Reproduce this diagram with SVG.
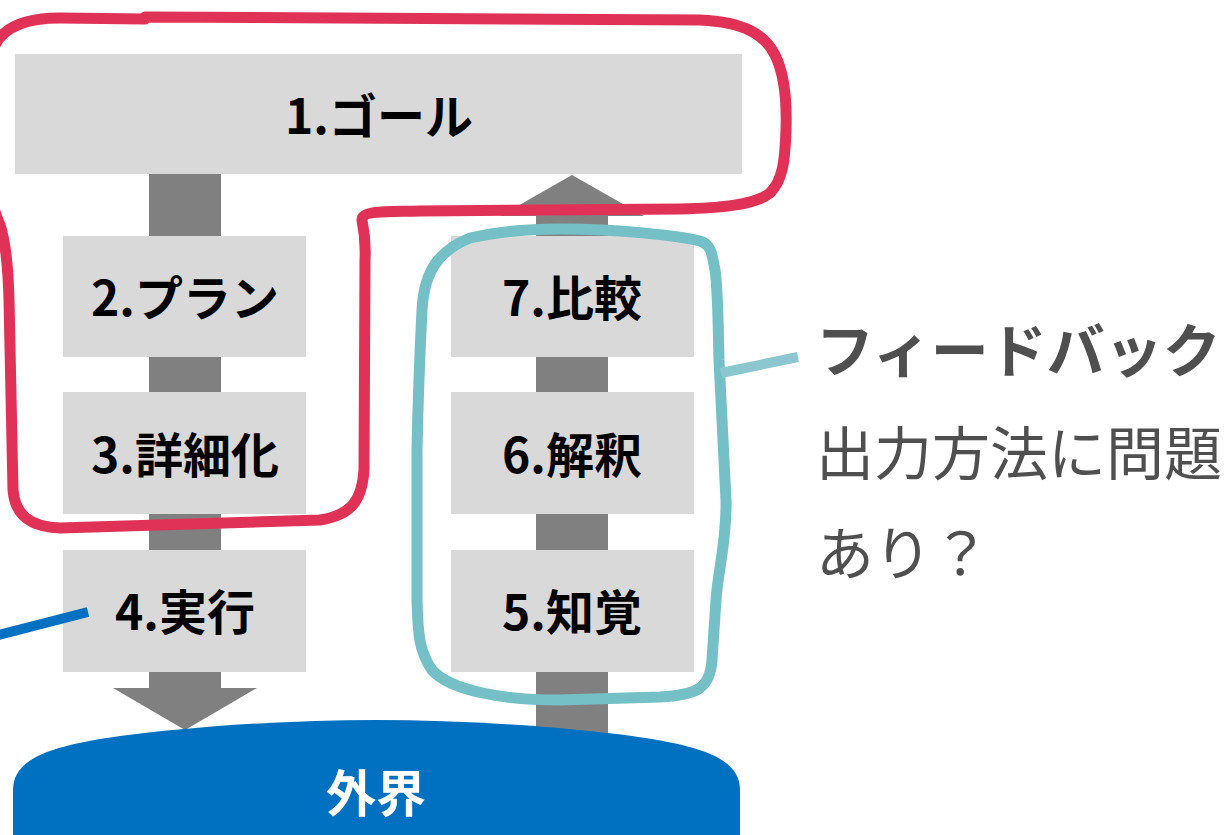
<svg xmlns="http://www.w3.org/2000/svg" width="1232" height="835" viewBox="0 0 1232 835">
<style>
.box{fill:#d9d9d9}
.lbl{font-family:"Noto Sans CJK JP","Noto Sans",sans-serif;font-weight:bold;font-size:48px;fill:#000;text-anchor:middle;dominant-baseline:central}
.arr{fill:#808080}
.side{font-family:"Noto Sans CJK JP","Noto Sans",sans-serif;font-size:58px;fill:#4f4f4f;dominant-baseline:central}
.hand{fill:none;stroke-linecap:round;stroke-linejoin:round}
</style>
<rect width="1232" height="835" fill="#fff"/>
<g id="connectors">
  <rect class="arr" x="149" y="174" width="72" height="62"/>
  <rect class="arr" x="149" y="357" width="72" height="35"/>
  <rect class="arr" x="149" y="514" width="72" height="36"/>
  <polygon class="arr" points="149,672 221,672 221,688 257,688 185,730 113,688 149,688"/>
  <polygon class="arr" points="572,175 644,216 608,216 608,236 536,236 536,216 500,216"/>
  <rect class="arr" x="536" y="357" width="72" height="35"/>
  <rect class="arr" x="536" y="514" width="72" height="36"/>
  <rect class="arr" x="536" y="672" width="72" height="62"/>
</g>
<g id="node-world">
  <path d="M13,835 V790 C13,755 60,745 120,736 C200,726 290,720 376,720 C462,720 552,726 632,736 C692,745 740,755 740,790 V835 Z" fill="#0070c0"/>
  <text x="376" y="790" font-family="Noto Sans CJK JP, sans-serif" font-weight="bold" font-size="50" fill="#fff" text-anchor="middle" dominant-baseline="central">外界</text>
</g>
<g id="node-1"><rect class="box" x="15" y="54" width="727" height="120"/><text class="lbl" x="379" y="113">1.ゴール</text></g>
<g id="node-2"><rect class="box" x="63" y="236" width="243" height="121"/><text class="lbl" x="185" y="295">2.プラン</text></g>
<g id="node-3"><rect class="box" x="63" y="392" width="243" height="122"/><text class="lbl" x="185" y="452">3.詳細化</text></g>
<g id="node-4"><rect class="box" x="63" y="550" width="243" height="122"/><text class="lbl" x="185" y="609">4.実行</text></g>
<g id="node-7"><rect class="box" x="451" y="236" width="243" height="121"/><text class="lbl" x="572" y="295">7.比較</text></g>
<g id="node-6"><rect class="box" x="451" y="392" width="243" height="122"/><text class="lbl" x="572" y="452">6.解釈</text></g>
<g id="node-5"><rect class="box" x="451" y="550" width="243" height="122"/><text class="lbl" x="572" y="609">5.知覚</text></g>
<g id="red-loop">
  <path class="hand" stroke="#e03256" stroke-width="11" d="M145,17 L700,20 C745,22 765,35 775,55 C785,75 787,100 786,130 C785,160 783,180 770,193 C755,205 720,208 680,209 L420,211 C390,212 362,210 362,220 C364,230 366,240 365,260 L364,470 C362,500 352,515 320,520 L60,528 C30,527 15,515 13,490 L9,300 C8,260 5,240 0,225 C-20,180 -20,80 -5,45 C5,25 30,18 60,18 L145,19"/>
</g>
<g id="teal-loop">
  <path class="hand" stroke="#74c0c6" stroke-width="11" d="M560,229 C620,229 680,236 700,241 C712,245 712,255 715,270 C718,290 718,320 719,360 L726,500 C727,540 718,570 716,600 L712,660 C710,690 695,695 660,697 L560,700 C500,700 450,690 432,670 C418,650 418,630 417,600 L417,450 C418,400 420,350 422,310 C424,270 440,250 470,238 C500,231 530,229 560,229 Z"/>
</g>
<g id="callouts">
  <line x1="721" y1="373" x2="798" y2="357" stroke="#8cc7cf" stroke-width="10"/>
  <line x1="-5" y1="636" x2="88" y2="612" stroke="#0070c0" stroke-width="10"/>
</g>
<g id="note">
  <text class="side" x="816" y="347" font-weight="bold">フィードバック</text>
  <text class="side" x="816" y="450">出力方法に問題</text>
  <text class="side" x="816" y="550">あり？</text>
</g>
</svg>
